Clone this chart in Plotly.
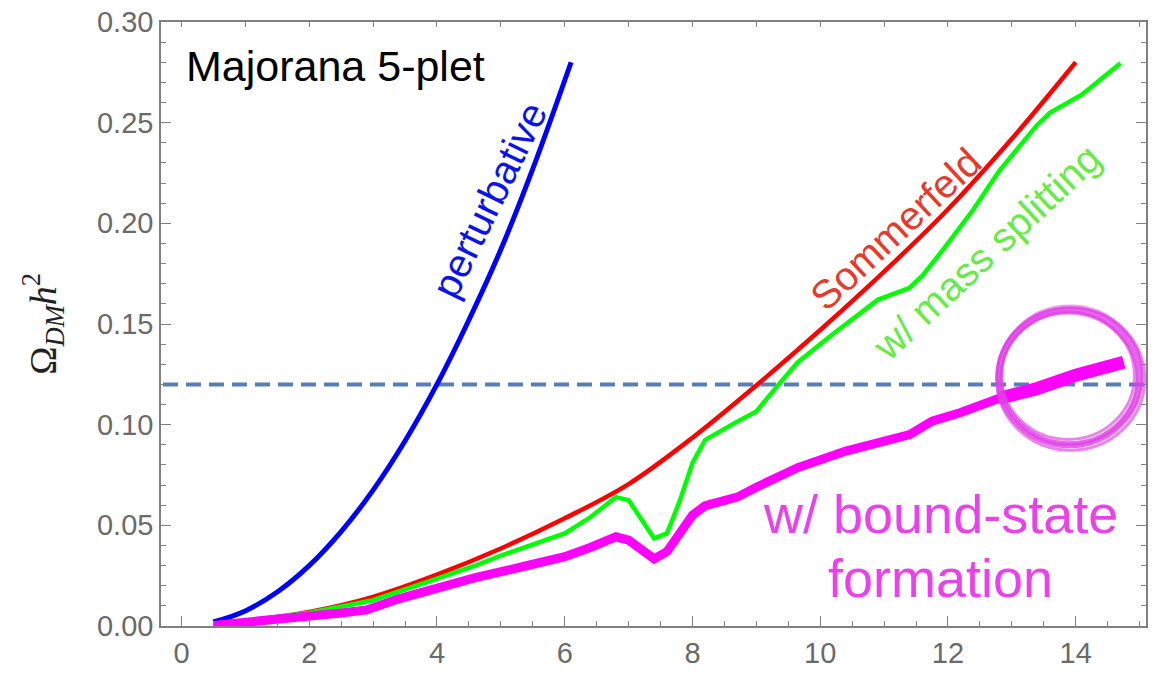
import plotly.graph_objects as go

# Relic abundance vs. DM mass (TeV) for the Majorana 5-plet
pert_x = [0.5, 1.0, 1.5, 2.0, 2.5, 3.0, 3.5, 4.0, 4.5, 5.0, 5.5, 6.1]
pert_y = [0.002, 0.0075, 0.0169, 0.030, 0.0469, 0.0675, 0.0919, 0.120, 0.152, 0.187, 0.227, 0.280]

somm_x = [0.5, 1, 2, 3, 4, 5, 6, 7, 8, 9, 10, 11, 12, 13, 14]
somm_y = [0.0008, 0.0025, 0.0070, 0.0145, 0.0255, 0.0385, 0.0535, 0.0705, 0.0935,
          0.1195, 0.147, 0.176, 0.207, 0.242, 0.280]

split_x = [0.5, 1, 2, 3, 4, 4.6, 5.0, 5.45, 6.0, 6.4, 6.8, 7.0, 7.4, 7.6, 7.8, 8.0, 8.2,
           8.7, 9.0, 9.35, 9.65, 10.2, 10.9, 11.4, 11.6, 11.9, 12.4, 12.8, 13.2, 13.4,
           13.6, 14.1, 14.7]
split_y = [0.0008, 0.0025, 0.0066, 0.0128, 0.0235, 0.030, 0.035, 0.040, 0.046, 0.054,
           0.064, 0.0625, 0.0435, 0.046, 0.062, 0.081, 0.0925, 0.1015, 0.1066, 0.120,
           0.131, 0.145, 0.162, 0.168, 0.174, 0.186, 0.207, 0.226, 0.241, 0.249, 0.255,
           0.264, 0.2795]

bsf_x = [0.5, 1, 1.5, 2, 2.5, 2.9, 3.4, 4.0, 4.6, 5.45, 6.0, 6.4, 6.8, 7.0, 7.2, 7.4,
         7.6, 7.8, 8.0, 8.2, 8.7, 9.0, 9.65, 10.4, 11.4, 11.75, 12.2, 12.8, 13.4, 14.0,
         14.4, 14.75]
bsf_y = [0.0003, 0.0015, 0.003, 0.005, 0.0065, 0.008, 0.0135, 0.0188, 0.024, 0.0303,
         0.0344, 0.039, 0.0443, 0.0426, 0.038, 0.0333, 0.0369, 0.046, 0.055, 0.0598,
         0.064, 0.0689, 0.0787, 0.0869, 0.0951, 0.1017, 0.106, 0.1131, 0.118, 0.1246,
         0.128, 0.131]

PLANCK = 0.12          # observed relic density
THICK_FROM = 12.8      # bound-state curve drawn heavier beyond this mass

x_ticks = [0, 2, 4, 6, 8, 10, 12, 14]
y_ticks = [0.00, 0.05, 0.10, 0.15, 0.20, 0.25, 0.30]
y_tick_text = ["0.00", "0.05", "0.10", "0.15", "0.20", "0.25", "0.30"]

X_RANGE = [-0.32, 15.1]
Y_RANGE = [0.0, 0.30]

AXIS_GRAY = "#808080"
LABEL_GRAY = "#6a6a6a"
SANS = "Liberation Sans, Arial, sans-serif"

fig = go.Figure()

fig.add_trace(go.Scatter(x=pert_x, y=pert_y, mode="lines",
                         line=dict(color="#0000ff", width=5, shape="spline")))
fig.add_trace(go.Scatter(x=somm_x, y=somm_y, mode="lines",
                         line=dict(color="#ff0000", width=4.5, shape="spline")))
fig.add_trace(go.Scatter(x=split_x, y=split_y, mode="lines",
                         line=dict(color="#00ff00", width=4.5)))
fig.add_trace(go.Scatter(x=bsf_x, y=bsf_y, mode="lines",
                         line=dict(color="#ff00ff", width=9)))
tail = [(a, b) for a, b in zip(bsf_x, bsf_y) if a >= THICK_FROM]
fig.add_trace(go.Scatter(x=[a for a, _ in tail], y=[b for _, b in tail], mode="lines",
                         line=dict(color="#ff00ff", width=13)))
# empty trace so the top tick axis is rendered
fig.add_trace(go.Scatter(x=[], y=[], xaxis="x2", yaxis="y"))

# Planck line
fig.add_shape(type="line", xref="paper", x0=0.002, x1=1, yref="y", y0=PLANCK, y1=PLANCK,
              line=dict(color="#5b7db7", width=4, dash="15px,8px"), layer="below")

# hand-drawn highlight ring around the crossing point
ring_cx, ring_cy = 13.9, 0.1235
ring_rx, ring_ry = 1.1, 0.0335
for dx, dy, dr, w, op in [(0.0, 0.0, 0.00, 7, 0.8), (0.02, -0.0008, 0.06, 3, 0.65),
                          (-0.02, 0.0008, -0.06, 3, 0.65), (0.01, 0.0012, 0.03, 2, 0.5),
                          (-0.015, -0.001, -0.03, 2, 0.5)]:
    fig.add_shape(type="circle", xref="x", yref="y",
                  x0=ring_cx + dx - ring_rx - dr, x1=ring_cx + dx + ring_rx + dr,
                  y0=ring_cy + dy - ring_ry - dr * 0.031, y1=ring_cy + dy + ring_ry + dr * 0.031,
                  line=dict(color="#e23fe8", width=w), opacity=op)

annotations = [
    dict(text="Majorana 5-plet", x=0.04, y=0.278, xref="x", yref="y", xanchor="left",
         showarrow=False, font=dict(family=SANS, size=43, color="#000000")),
    dict(text="perturbative", x=4.82, y=0.2115, xref="x", yref="y", textangle=-64,
         showarrow=False, font=dict(family=SANS, size=40, color="#0a14e8")),
    dict(text="Sommerfeld", x=11.18, y=0.197, xref="x", yref="y", textangle=-43,
         showarrow=False, font=dict(family=SANS, size=40, color="#e63a2a")),
    dict(text="w/ mass splitting", x=12.6, y=0.186, xref="x", yref="y", textangle=-43,
         showarrow=False, font=dict(family=SANS, size=40, color="#68ea48")),
    dict(text="w/ bound-state", x=11.88, y=0.0556, xref="x", yref="y",
         showarrow=False, font=dict(family=SANS, size=54, color="#ea42ea")),
    dict(text="formation", x=11.88, y=0.0236, xref="x", yref="y",
         showarrow=False, font=dict(family=SANS, size=54, color="#ea42ea")),
    dict(text="Ω<sub><i>DM</i></sub><i>h</i><sup>2</sup>", x=-0.12, y=0.5,
         xref="paper", yref="paper", xanchor="center", yanchor="middle",
         textangle=-90, showarrow=False,
         font=dict(family="Liberation Serif, Times New Roman, serif", size=38, color="#222222")),
]

fig.update_layout(
    width=1154, height=675,
    margin=dict(l=161, r=6, t=20, b=45),
    plot_bgcolor="white", paper_bgcolor="white",
    showlegend=False,
    annotations=annotations,
    xaxis=dict(range=X_RANGE, tickvals=x_ticks, ticks="inside", ticklen=10, tickwidth=1.3,
               tickcolor=AXIS_GRAY, showline=True, linecolor=AXIS_GRAY, linewidth=1.5,
               mirror=True, showgrid=False, zeroline=False,
               tickfont=dict(family=SANS, size=29, color=LABEL_GRAY),
               minor=dict(dtick=0.5, tick0=0, ticks="inside", ticklen=5, tickwidth=1.2,
                          tickcolor=AXIS_GRAY, showgrid=False)),
    xaxis2=dict(range=X_RANGE, overlaying="x", side="top", anchor="y", dtick=1, tick0=0,
                ticks="inside", ticklen=5, tickwidth=1.2, tickcolor=AXIS_GRAY,
                showticklabels=False, showline=False, showgrid=False, zeroline=False),
    yaxis=dict(range=Y_RANGE, tickvals=y_ticks, ticktext=y_tick_text, ticks="inside",
               ticklen=10, tickwidth=1.3, tickcolor=AXIS_GRAY, showline=True,
               linecolor=AXIS_GRAY, linewidth=1.5, mirror="ticks", showgrid=False,
               zeroline=False, tickfont=dict(family=SANS, size=29, color=LABEL_GRAY),
               minor=dict(dtick=0.01, tick0=0, ticks="inside", ticklen=5, tickwidth=1.2,
                          tickcolor=AXIS_GRAY, showgrid=False)),
)

fig.write_html("out.html")
